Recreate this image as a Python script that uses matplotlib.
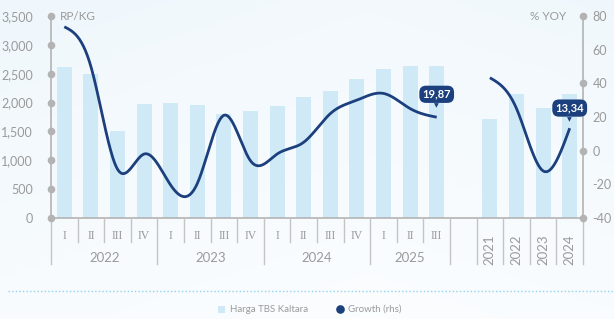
import numpy as np
import matplotlib
matplotlib.use("Agg")
import matplotlib.pyplot as plt
from matplotlib.transforms import blended_transform_factory
from matplotlib.lines import Line2D
from matplotlib.patches import Rectangle

# ---------------- data ----------------
quarter_labels = ["I", "II", "III", "IV", "I", "II", "III", "IV",
                  "I", "II", "III", "IV", "I", "II", "III"]
quarter_years = ["2022", "2023", "2024", "2025"]
year_quarter_counts = [4, 4, 4, 3]
annual_labels = ["2021", "2022", "2023", "2024"]

harga_q = [2620, 2500, 1500, 1970, 2000, 1950, 1800, 1850,
           1935, 2090, 2205, 2400, 2590, 2640, 2640]
harga_y = [1720, 2150, 1905, 2150]

growth_q = [73.6, 50, -11, -2, -20.5, -19.5, 21, -6,
            -2, 5, 22, 30, 34, 25, 19.87]
growth_y = [43.3, 25, -12, 13.34]

label_q = "19,87"
label_y = "13,34"

# ---------------- style ----------------
BAR = "#cfeaf6"
LINE = "#1c3f7e"
GRAY = "#b3b3b3"
TXT = "#9a9a9a"
SANS = ["Lato", "DejaVu Sans"]
SERIF = ["Liberation Serif", "DejaVu Serif"]

plt.rcParams["font.family"] = SANS

fig = plt.figure(figsize=(6.14, 3.19), dpi=100)

# background gradient
bg = fig.add_axes([0, 0, 1, 1], zorder=-10)
gx, gy = np.meshgrid(np.linspace(0, 1, 200), np.linspace(0, 1, 100))
d = np.clip(0.55 * (1 - gy) + 0.35 * np.abs(gx - 0.6), 0, 1)
c0 = np.array([0.985, 0.993, 1.0])
c1 = np.array([0.925, 0.962, 0.985])
img = c0[None, None, :] * (1 - d[..., None]) + c1[None, None, :] * d[..., None]
bg.imshow(img, aspect="auto", extent=[0, 1, 0, 1], origin="upper")
bg.set_axis_off()

ax = fig.add_axes([51 / 614, 1 - 218 / 319, (583 - 51) / 614, 202 / 319])
ax.patch.set_alpha(0)
ax2 = ax.twinx()
ax2.patch.set_alpha(0)

nq = len(harga_q)
xq = np.arange(nq) + 0.5
xa = np.arange(len(harga_y)) + nq + 1 + 0.5
ntot = nq + 1 + len(harga_y)

ax.bar(xq, harga_q, width=0.57, color=BAR, zorder=1)
ax.bar(xa, harga_y, width=0.57, color=BAR, zorder=1)
ax.set_xlim(0, ntot)
ax.set_ylim(0, 3500)
ax2.set_ylim(-40, 80)


def natural_spline(x, y, n=40):
    x = np.asarray(x, float)
    y = np.asarray(y, float)
    k = len(x)
    h = np.diff(x)
    A = np.zeros((k, k))
    r = np.zeros(k)
    A[0, 0] = 1
    A[-1, -1] = 1
    for i in range(1, k - 1):
        A[i, i - 1] = h[i - 1]
        A[i, i] = 2 * (h[i - 1] + h[i])
        A[i, i + 1] = h[i]
        r[i] = 6 * ((y[i + 1] - y[i]) / h[i] - (y[i] - y[i - 1]) / h[i - 1])
    M = np.linalg.solve(A, r)
    xs, ys = [], []
    for i in range(k - 1):
        t = np.linspace(x[i], x[i + 1], n)
        a = x[i + 1] - t
        b = t - x[i]
        hi = h[i]
        s = (M[i] * a**3 + M[i + 1] * b**3) / (6 * hi) \
            + (y[i] / hi - M[i] * hi / 6) * a + (y[i + 1] / hi - M[i + 1] * hi / 6) * b
        xs.append(t)
        ys.append(s)
    return np.concatenate(xs), np.concatenate(ys)


sx, sy = natural_spline(xq, growth_q)
ax2.plot(sx, sy, color=LINE, lw=2.0, zorder=5, solid_capstyle="butt")
sx, sy = natural_spline(xa, growth_y)
ax2.plot(sx, sy, color=LINE, lw=2.0, zorder=5, solid_capstyle="butt")

# data labels
for xv, yv, txt, off in [(xq[-1], growth_q[-1], label_q, 16.5),
                         (xa[-1], growth_y[-1], label_y, 14.5)]:
    ax2.annotate(txt, (xv, yv), xytext=(0, off), textcoords="offset points",
                 ha="center", va="center", color="white", fontsize=8,
                 fontweight="bold", family=SANS, zorder=8,
                 bbox=dict(boxstyle="round,pad=0.28,rounding_size=0.6",
                           fc=LINE, ec="none"))
    ax2.annotate("\u25BC", (xv, yv), xytext=(0, off - 8.3),
                 textcoords="offset points", ha="center", va="center",
                 color=LINE, fontsize=4.5, family=["DejaVu Sans"], zorder=8)

# spines
for a in (ax, ax2):
    for s in ("top", "right", "left", "bottom"):
        a.spines[s].set_visible(False)

trans = blended_transform_factory(ax.transData, ax.transAxes)
# axis lines
ax.plot([0, 0], [0, 1], transform=ax.transAxes, color=GRAY, lw=1.2, clip_on=False, zorder=3)
ax.plot([1, 1], [0, 1], transform=ax.transAxes, color=GRAY, lw=1.2, clip_on=False, zorder=3)
ax.plot([0, 1], [0, 0], transform=ax.transAxes, color=GRAY, lw=1.2, clip_on=False, zorder=3)

# left ticks: dots + labels
lt = np.arange(0, 3501, 500)
ax.plot(np.zeros_like(lt), lt, "o", color=GRAY, ms=4.5, clip_on=False, zorder=4,
        transform=blended_transform_factory(ax.transAxes, ax.transData))
ax.set_yticks(lt)
ax.set_yticklabels([f"{v:,}" for v in lt], color=TXT, fontsize=9)
ax.tick_params(axis="y", length=0, pad=13)

rt = np.arange(-40, 81, 20)
rd = np.array([-40, 0, 40, 80])
ax2.plot(np.ones_like(rd), rd, "o", color=GRAY, ms=4.5, clip_on=False, zorder=4,
         transform=blended_transform_factory(ax2.transAxes, ax2.transData))
ax2.set_yticks(rt)
ax2.set_yticklabels([str(v) for v in rt], color=TXT, fontsize=9)
ax2.tick_params(axis="y", length=0, pad=7)

ax.set_xticks([])
ax2.set_xticks([])

# separators
SHORT = -0.118
LONG = -0.228
long_b = [0]
acc = 0
for c in year_quarter_counts:
    acc += c
    long_b.append(acc)
long_b += list(range(nq + 1, ntot + 1))
for b in range(0, ntot + 1):
    yb = LONG if b in long_b else SHORT
    ax.plot([b, b], [0, yb], transform=trans, color="#c4c4c4", lw=1.0,
            clip_on=False, zorder=3)

# quarter labels
for xv, lab in zip(xq, quarter_labels):
    ax.text(xv, -0.087, lab, transform=trans, ha="center", va="center",
            color=TXT, fontsize=8.5, family=SERIF)
# year labels
start = 0
for yr, c in zip(quarter_years, year_quarter_counts):
    ax.text(start + c / 2.0, -0.2, yr, transform=trans, ha="center", va="center",
            color=TXT, fontsize=9.5)
    start += c
# annual labels
for xv, lab in zip(xa, annual_labels):
    ax.text(xv, -0.158, lab, transform=trans, ha="center", va="center",
            rotation=90, color=TXT, fontsize=9.5)

# axis titles
fig.text(60 / 614, 1 - 16 / 319, "RP/KG", ha="left", va="center", color=TXT, fontsize=8.5)
fig.text(566 / 614, 1 - 16 / 319, "% YOY", ha="right", va="center", color=TXT, fontsize=8.5)

# dotted rule
fig.add_artist(Line2D([8 / 614, 1.0], [1 - 291 / 319] * 2, color="#8fd3ef",
                      lw=1.0, linestyle=(0, (1, 1.6))))

# legend
fig.add_artist(Rectangle((218 / 614, 1 - 312.5 / 319), 7 / 614, 7 / 319,
                         transform=fig.transFigure, color=BAR, lw=0))
fig.text(230.5 / 614, 1 - 309 / 319, "Harga TBS Kaltara", ha="left", va="center",
         color=TXT, fontsize=7)
fig.add_artist(Line2D([339.5 / 614], [1 - 309 / 319], marker="o", ms=5.2,
                      color=LINE, lw=0, transform=fig.transFigure))
fig.text(348 / 614, 1 - 309 / 319, "Growth (rhs)", ha="left", va="center",
         color=TXT, fontsize=7)

fig.savefig("out.png", dpi=100)
